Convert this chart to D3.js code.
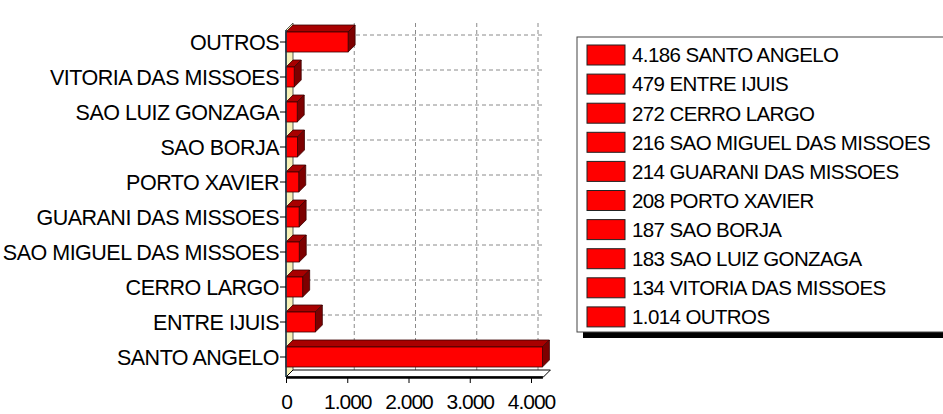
<!DOCTYPE html>
<html>
<head>
<meta charset="utf-8">
<script src="https://cdn.jsdelivr.net/npm/d3@7"></script>
<style>
  body { margin: 0; background: #fff; }
  svg text { font-family: "Liberation Sans", Arial, sans-serif; fill: #000; }
</style>
</head>
<body>
<div id="chart"></div>
<script>
// Municipios - 3D horizontal bars with legend box.

var cities = ["SANTO ANGELO", "ENTRE IJUIS", "CERRO LARGO", "SAO MIGUEL DAS MISSOES",
              "GUARANI DAS MISSOES", "PORTO XAVIER", "SAO BORJA", "SAO LUIZ GONZAGA",
              "VITORIA DAS MISSOES", "OUTROS"];
var values = [4186, 479, 272, 216, 214, 208, 187, 183, 134, 1014];
var xTicks = [0, 1000, 2000, 3000, 4000];
var xMinorTicks = d3.range(0, 4001, 250);

var chart3d = {
    param: {
	width: 943,
	height: 414,
	left: 286,
	top: 42,
	bottom: 357,
	axisY: 377,
	barH: 20,
	depth: 7,
	fontSize: 21.5,
	legendFont: 20.5
    },

    init: function(renderDiv){
	var param = chart3d.param;
	var br = d3.formatLocale({decimal: ",", thousands: ".", grouping: [3], currency: ["R$", ""]});
	var fmt = br.format(",d");

	var svg = d3.select(renderDiv).append("svg")
	    .attr("width", param.width)
	    .attr("height", param.height);

	var x = d3.scaleLinear().domain([0, d3.max(values)]).range([param.left, param.left + 4186 * 0.06125]);
	var y = d3.scalePoint().domain(cities.slice().reverse()).range([param.top, param.bottom]);
	var d = param.depth;
	var xEnd = x.range()[1];

	// back wall grid
	var grid = svg.append("g").attr("stroke", "#8a8a8a").attr("stroke-dasharray", "4,3");
	grid.selectAll("line.v").data(xTicks.slice(1)).enter().append("line")
	    .attr("x1", function(v){ return x(v) + d; }).attr("x2", function(v){ return x(v) + d; })
	    .attr("y1", param.top - 19).attr("y2", param.axisY - d);
	grid.selectAll("line.h").data(cities).enter().append("line")
	    .attr("x1", x(0) + d).attr("x2", xEnd)
	    .attr("y1", function(c){ return y(c) - d; }).attr("y2", function(c){ return y(c) - d; });

	// left wall
	var wallTop = param.top - 12;
	svg.append("path")
	    .attr("d", "M" + x(0) + "," + param.axisY + "L" + (x(0) + d) + "," + (param.axisY - d)
		  + "L" + (x(0) + d) + "," + (wallTop - d) + "L" + x(0) + "," + wallTop + "Z")
	    .attr("fill", "#f6f1b8").attr("stroke", "#333").attr("stroke-width", 0.8);

	// floor
	svg.append("path")
	    .attr("d", "M" + x(0) + "," + param.axisY + "L" + (x(0) + d) + "," + (param.axisY - d)
		  + "L" + (xEnd + d + 1) + "," + (param.axisY - d) + "L" + (xEnd + 1) + "," + param.axisY + "Z")
	    .attr("fill", "#fff").attr("stroke", "#000").attr("stroke-width", 1);

	// bars
	var bars = svg.selectAll("g.bar").data(cities).enter().append("g").attr("class", "bar");
	var h2 = param.barH / 2;
	bars.append("path").attr("fill", "#a80000").attr("stroke", "#3a0000").attr("stroke-width", 0.8)
	    .attr("d", function(c, i){
		var x0 = x(0), x1 = x(values[i]), yt = y(c) - h2;
		return "M" + x0 + "," + yt + "L" + (x0 + d) + "," + (yt - d) + "L" + (x1 + d) + "," + (yt - d)
		    + "L" + x1 + "," + yt + "Z";
	    });
	bars.append("path").attr("fill", "#7d0000").attr("stroke", "#3a0000").attr("stroke-width", 0.8)
	    .attr("d", function(c, i){
		var x1 = x(values[i]), yt = y(c) - h2, yb = y(c) + h2;
		return "M" + x1 + "," + yt + "L" + (x1 + d) + "," + (yt - d) + "L" + (x1 + d) + "," + (yb - d)
		    + "L" + x1 + "," + yb + "Z";
	    });
	bars.append("rect").attr("fill", "#ff0000").attr("stroke", "#3a0000").attr("stroke-width", 0.8)
	    .attr("x", x(0))
	    .attr("y", function(c){ return y(c) - h2; })
	    .attr("width", function(c, i){ return x(values[i]) - x(0); })
	    .attr("height", param.barH);

	// category axis
	svg.append("line").attr("x1", x(0)).attr("x2", x(0)).attr("y1", wallTop).attr("y2", param.axisY)
	    .attr("stroke", "#1d3a4a").attr("stroke-width", 1.5);
	var cat = svg.append("g");
	cat.selectAll("line").data(cities).enter().append("line")
	    .attr("x1", x(0) - 6).attr("x2", x(0))
	    .attr("y1", function(c){ return y(c); }).attr("y2", function(c){ return y(c); })
	    .attr("stroke", "#000");
	cat.selectAll("text").data(cities).enter().append("text")
	    .attr("x", x(0) - 7).attr("y", function(c){ return y(c); }).attr("dy", "0.36em")
	    .attr("text-anchor", "end").attr("font-size", param.fontSize).attr("letter-spacing", "-0.5px")
	    .text(function(c){ return c; });

	// value axis
	var axis = svg.append("g").attr("transform", "translate(0," + param.axisY + ")");
	axis.call(d3.axisBottom(x).tickValues(xMinorTicks).tickSize(4).tickSizeOuter(0).tickFormat(""));
	axis.call(d3.axisBottom(x).tickValues(xTicks).tickSize(6).tickSizeOuter(0).tickPadding(11)
		  .tickFormat(function(v){ return fmt(v); }));
	axis.select(".domain").attr("stroke-width", 2.5);
	axis.selectAll("text").attr("font-size", 21).attr("letter-spacing", "-1px")
	    .style("font-family", "'Liberation Sans', Arial, sans-serif").attr("fill", "#000");
	axis.selectAll("line").attr("stroke", "#000");

	// legend
	var lg = svg.append("g");
	var lx = 577, ly = 37, lw = 375, lh = 295, step = 29.1;
	lg.append("rect").attr("x", lx + 6).attr("y", ly + 6).attr("width", lw).attr("height", lh).attr("fill", "#000");
	lg.append("rect").attr("x", lx).attr("y", ly).attr("width", lw).attr("height", lh)
	    .attr("fill", "#fff").attr("stroke", "#444").attr("stroke-width", 1);
	var rows = lg.selectAll("g.row").data(cities).enter().append("g").attr("class", "row")
	    .attr("transform", function(c, i){ return "translate(" + (lx + 10) + "," + (ly + 18 + i * step) + ")"; });
	rows.append("rect").attr("x", 0).attr("y", -10).attr("width", 38).attr("height", 20)
	    .attr("fill", "#ff0000").attr("stroke", "#222").attr("stroke-width", 1);
	rows.append("text").attr("x", 45).attr("dy", "0.36em")
	    .attr("font-size", param.legendFont).attr("letter-spacing", "-0.6px")
	    .text(function(c, i){ return fmt(values[i]) + " " + c; });
    }
};

chart3d.init("#chart");
</script>
</body>
</html>
